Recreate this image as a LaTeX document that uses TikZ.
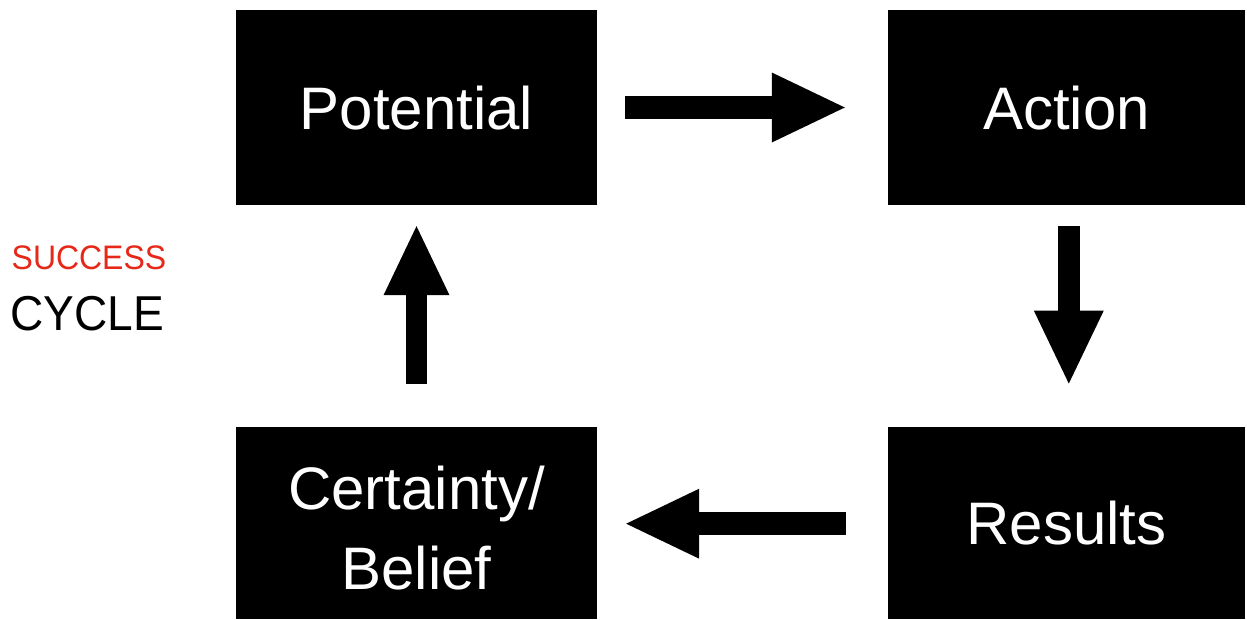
\documentclass[tikz,border=0pt]{standalone}
\usepackage{fontspec}
\setmainfont{Liberation Sans}
\newfontfamily\narrowsans[FakeStretch=0.94]{Liberation Sans}
\usetikzlibrary{arrows.meta}
\definecolor{cyclered}{RGB}{230,40,24}
\tikzset{
  box/.style={fill=black, draw=none, inner sep=0pt, text=white,
    font=\fontsize{60}{80}\selectfont, text height=43pt, text depth=0pt},
  boxtext/.style={inner sep=0pt, text=white, align=center,
    font=\fontsize{60}{80}\selectfont},
  blockarrow/.style={line width=22.5pt,
    -{Triangle[length=73pt, width=70pt, line width=0pt]}},
}
\begin{document}
\begin{tikzpicture}[x=1pt,y=-1pt]
\useasboundingbox (0,0) rectangle (1247,619);
\node[box, minimum width=361pt, minimum height=195pt] (pot) at (416.5,107.5) {Potential};
\node[box, minimum width=357pt, minimum height=195pt] (act) at (1066.5,107.5) {Action};
\node[box, minimum width=357pt, minimum height=192.5pt] (res) at (1066.5,523) {Results};
\node[box, minimum width=361pt, minimum height=192.5pt] (cer) at (416.5,523) {};
\node[boxtext] (certext) at (416.5,528) {Certainty/\\Belief};
% arrows
\draw[blockarrow, shorten <=28pt, shorten >=43pt] (pot.east) -- (act.west);
\draw[blockarrow, shorten <=21pt, shorten >=43pt] ([xshift=2.3pt]act.south) -- ([xshift=2.3pt]res.north);
\draw[blockarrow, shorten <=42pt, shorten >=29pt] ([yshift=-0.7pt]res.west) -- ([yshift=-0.7pt]cer.east);
\draw[line width=21.5pt, -{Triangle[length=69pt, width=66pt, line width=0pt]}, shorten <=43pt, shorten >=21pt] (cer.north) -- (pot.south);
% title
\node[anchor=base west, inner sep=0pt, text=cyclered, font=\narrowsans\fontsize{34}{40}\selectfont] (succ) at (11.5,269) {SUCCESS};
\node[anchor=base west, inner sep=0pt, text=black, font=\narrowsans\fontsize{49}{58}\selectfont] (cyc) at (10.5,330) {CYCLE};
\end{tikzpicture}
\end{document}
